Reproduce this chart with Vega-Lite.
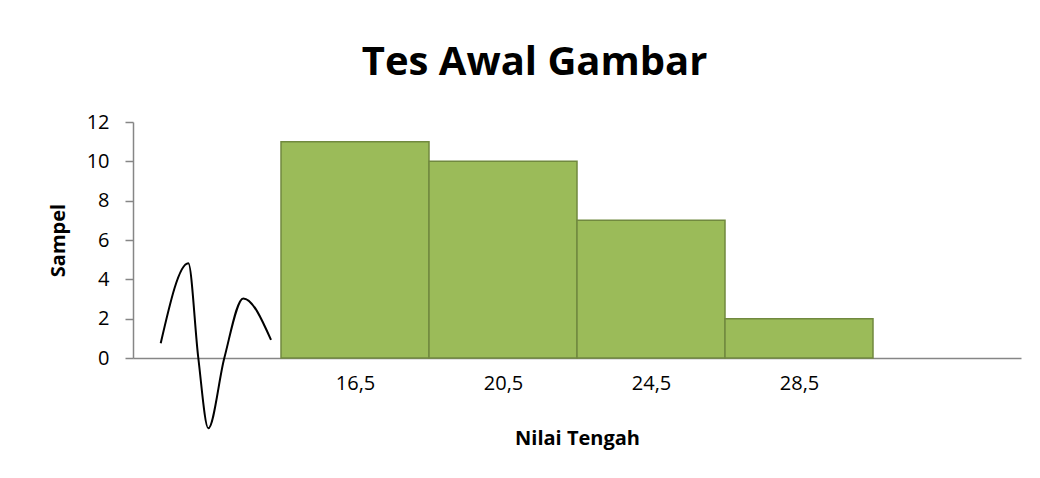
{
  "$schema": "https://vega.github.io/schema/vega-lite/v6.json",
  "autosize": {"type": "none"},
  "width": 888,
  "height": 236,
  "padding": {"left": 133, "top": 122, "right": 19, "bottom": 120},
  "background": "white",
  "config": {
    "view": {"stroke": null},
    "font": "Open Sans",
    "axis": {"labelFont": "Open Sans", "titleFont": "Open Sans", "labelColor": "#000000", "titleColor": "#000000", "domainColor": "#868686", "tickColor": "#868686", "domainWidth": 1.5, "tickWidth": 1.5, "grid": false, "labelOverlap": false}
  },
  "title": {"text": "Tes Awal Gambar", "font": "Open Sans", "fontSize": 40, "fontWeight": "bold", "color": "#000000", "anchor": "middle", "frame": "bounds", "offset": 29},
  "datasets": {
    "bars": [
      {"lo": 14.5, "hi": 18.5, "n": 11},
      {"lo": 18.5, "hi": 22.5, "n": 10},
      {"lo": 22.5, "hi": 26.5, "n": 7},
      {"lo": 26.5, "hi": 30.5, "n": 2}
    ],
    "squiggle": [
      {"x": 11.249, "y": 0.75},
      {"x": 11.995, "y": 4.82},
      {"x": 12.265, "y": 0},
      {"x": 12.535, "y": -3.57},
      {"x": 12.968, "y": 0},
      {"x": 13.481, "y": 3.03},
      {"x": 14.23, "y": 0.92}
    ]
  },
  "layer": [
    {
      "data": {"name": "bars"},
      "mark": {"type": "rect", "fill": "#9BBB59", "stroke": "#71893F", "strokeWidth": 1.5},
      "encoding": {
        "x": {"field": "lo", "type": "quantitative", "scale": {"domain": [10.5, 34.5], "nice": false, "zero": false},
          "axis": {"title": "Nilai Tengah", "titleFontSize": 20, "titleFontWeight": "bold", "titlePadding": 35, "labelFontSize": 20, "labelPadding": 15, "ticks": false, "values": [16.5, 20.5, 24.5, 28.5], "labelExpr": "replace(format(datum.value, '.1f'), '.', ',')"}},
        "x2": {"field": "hi"},
        "y": {"field": "n", "type": "quantitative", "scale": {"domain": [0, 12], "nice": false},
          "axis": {"title": "Sampel", "titleFontSize": 20, "titleFontWeight": "bold", "titlePadding": 18, "labelFontSize": 20, "labelPadding": 16, "tickSize": 8, "values": [0, 2, 4, 6, 8, 10, 12]}},
        "y2": {"datum": 0}
      }
    },
    {
      "data": {"name": "squiggle"},
      "mark": {"type": "line", "color": "#000000", "strokeWidth": 2, "interpolate": "monotone", "clip": false},
      "encoding": {
        "x": {"field": "x", "type": "quantitative", "scale": {"domain": [10.5, 34.5], "nice": false, "zero": false},
          "axis": {"title": "Nilai Tengah", "titleFontSize": 20, "titleFontWeight": "bold", "titlePadding": 35, "labelFontSize": 20, "labelPadding": 15, "ticks": false, "values": [16.5, 20.5, 24.5, 28.5], "labelExpr": "replace(format(datum.value, '.1f'), '.', ',')"}},
        "y": {"field": "y", "type": "quantitative", "scale": {"domain": [0, 12], "nice": false},
          "axis": {"title": "Sampel", "titleFontSize": 20, "titleFontWeight": "bold", "titlePadding": 18, "labelFontSize": 20, "labelPadding": 16, "tickSize": 8, "values": [0, 2, 4, 6, 8, 10, 12]}}
      }
    }
  ]
}
